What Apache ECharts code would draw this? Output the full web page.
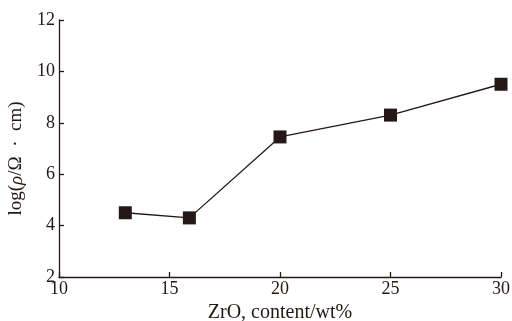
<!DOCTYPE html>
<html><head><meta charset="utf-8">
<script src="https://cdn.jsdelivr.net/npm/echarts@6/dist/echarts.min.js"></script>
<style>html,body{margin:0;padding:0;background:#fff}#c{width:512px;height:321px}</style>
</head><body><div id="c"></div>
<script>
const xValues = [13, 15.9, 20, 25, 30];
const yValues = [4.5, 4.3, 7.45, 8.3, 9.5];
const xTitle = 'ZrO, content/wt%';
const yTitle = '{a|log(}{i|ρ}{a|/Ω  ·  cm)}';
const ink = '#231815';
const font = 'Liberation Serif';
const chart = echarts.init(document.getElementById('c'), null, {renderer: 'canvas'});
chart.setOption({
  animation: false,
  grid: {left: 59, right: 11, top: 20, bottom: 44, outerBoundsMode: 'none', containLabel: false},
  xAxis: {
    type: 'value', min: 10, max: 30, interval: 5,
    name: xTitle, nameLocation: 'middle', nameGap: 26,
    nameTextStyle: {fontFamily: font, fontSize: 20, color: ink},
    axisLine: {lineStyle: {color: ink, width: 1.3}},
    axisTick: {inside: true, length: 5, lineStyle: {color: ink, width: 1.3}},
    axisLabel: {fontFamily: font, fontSize: 18, color: ink, margin: 3},
    splitLine: {show: false}
  },
  yAxis: {
    type: 'value', min: 2, max: 12, interval: 2,
    name: yTitle, nameLocation: 'middle', nameGap: 33,
    nameTextStyle: {fontFamily: font, fontSize: 19, color: ink, padding: [0, 20, 0, 0],
      rich: {a: {fontFamily: font, fontSize: 19, color: ink}, i: {fontFamily: font, fontSize: 19, color: ink, fontStyle: 'italic'}}},
    axisLine: {show: true, lineStyle: {color: ink, width: 1.3}},
    axisTick: {show: true, inside: true, length: 5, lineStyle: {color: ink, width: 1.3}},
    axisLabel: {fontFamily: font, fontSize: 18, color: ink, margin: 4},
    splitLine: {show: false}
  },
  series: [{
    type: 'line',
    data: xValues.map((x, i) => [x, yValues[i]]),
    symbol: 'rect', symbolSize: 13,
    itemStyle: {color: ink},
    lineStyle: {color: ink, width: 1.3}
  }]
});
</script></body></html>
